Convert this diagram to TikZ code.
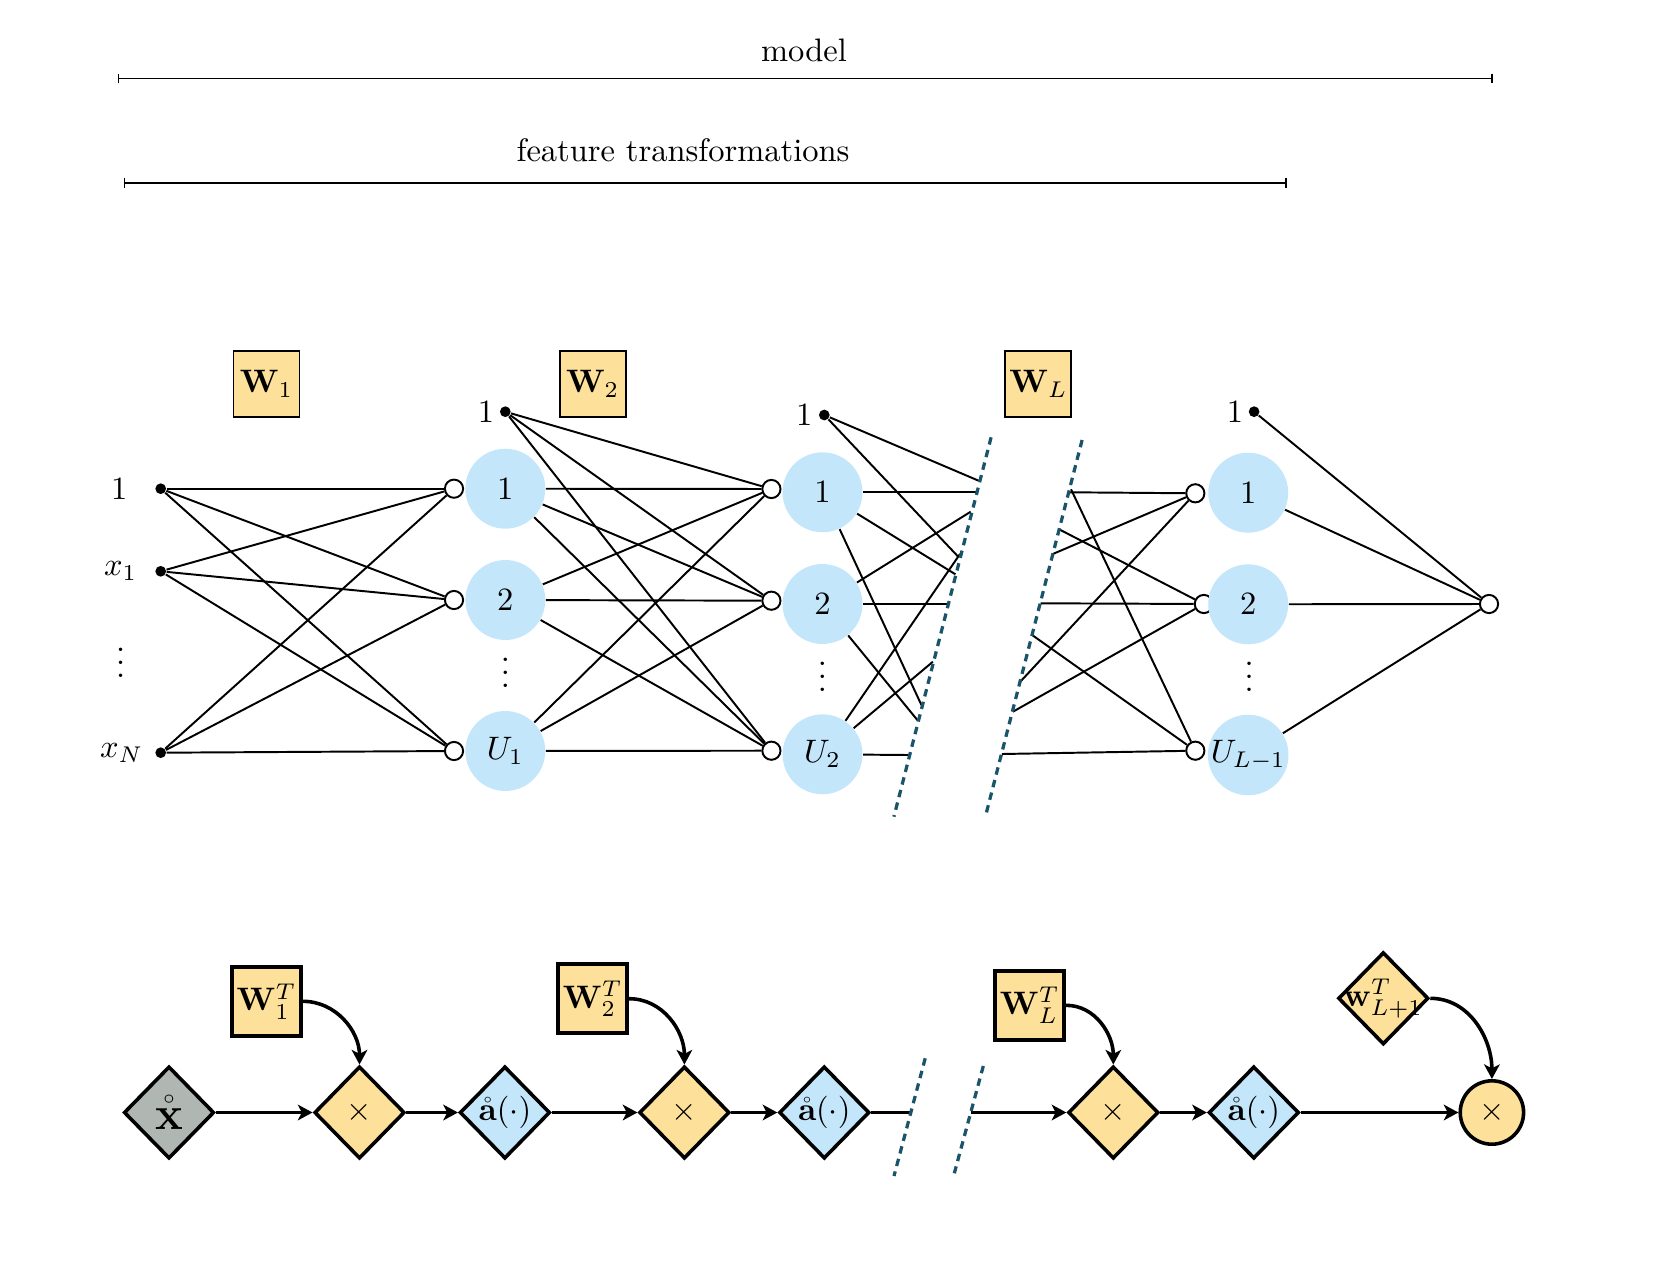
\documentclass[tikz,border=0pt]{standalone}
\usetikzlibrary{arrows.meta,shapes.geometric}
\definecolor{wfill}{HTML}{FDE09A}
\definecolor{afill}{HTML}{C4E6FA}
\definecolor{xfill}{HTML}{B0B7B2}
\definecolor{cutcol}{HTML}{1A5468}
\begin{document}
\begin{tikzpicture}[x=0.3077pt,y=-0.3077pt,
  edge/.style={semithick},
  inp/.style={circle,fill=black,inner sep=0pt,minimum size=3.3pt},
  sumn/.style={circle,draw,fill=white,semithick,inner sep=0pt,minimum size=5.6pt},
  actn/.style={circle,fill=afill,inner sep=0pt,minimum size=24.6pt},
  wbox/.style={rectangle,draw,fill=wfill,semithick,inner sep=0pt,minimum size=20.3pt},
  txt/.style={inner sep=0pt},
  cut/.style={cutcol,line width=1pt,dash pattern=on 2.3pt off 1.7pt},
  span/.style={semithick,{Bar[width=3pt]}-{Bar[width=3pt]}},
  flowline/.style={line width=1.1pt},
  flow/.style={line width=1.1pt,-{Stealth[length=4.5pt,width=4.8pt,inset=1.2pt]}},
  bwbox/.style={rectangle,draw,fill=wfill,line width=1.2pt,inner sep=0pt,minimum size=21.2pt},
  dia/.style={diamond,draw,line width=1.1pt,inner sep=0pt,minimum width=27.8pt,minimum height=28.4pt},
  prod/.style={circle,draw,fill=wfill,line width=1.1pt,inner sep=0pt,minimum size=19.5pt},
]
\useasboundingbox (0,0) rectangle (1666,1284);

% ---------- spans ----------
\coordinate (ms) at (117.5,78.5);
\coordinate (me) at (1492.5,78.5);
\draw[span] (ms) -- (me);
\node[txt,anchor=base] (mlab) at (804,61.5) {model};
\coordinate (fs) at (123.5,182.7);
\coordinate (fe) at (1287,182.7);
\draw[span] (fs) -- (fe);
\node[txt,anchor=base] (flab) at (683,161.5) {feature transformations};

% ---------- weight labels ----------
\node[wbox] (W1) at (266.5,384) {$\mathbf{W}_1$};
\node[wbox] (W2) at (592.7,384) {$\mathbf{W}_2$};
\node[wbox] (WL) at (1038.4,384) {$\mathbf{W}_L$};

% ---------- input layer ----------
\node[inp] (i0) at (160.7,488.7) {};
\node[inp] (i1) at (160.7,571.3) {};
\node[inp] (iN) at (160.7,752.7) {};
\node[txt] (li0) at (119.3,489) {$1$};
\node[txt] (li1) at (120.7,571) {$x_1$};
\node[txt] (lid) at (120.7,653) {$\vdots$};
\node[txt] (liN) at (121.7,753) {$x_N$};

% ---------- hidden layer 1 ----------
\node[sumn] (s11) at (454,488.7) {};
\node[sumn] (s12) at (454,600) {};
\node[sumn] (s1U) at (454,751) {};
\node[actn] (a11) at (505.3,488.7) {$1$};
\node[actn] (a12) at (505.3,600) {$2$};
\node[actn] (a1U) at (505.3,751) {$U_1$};
\node[txt] (d1) at (505.3,663.5) {$\vdots$};
\node[inp] (b1) at (505.3,411.7) {};
\node[txt] (lb1) at (486,411.7) {$1$};

% ---------- hidden layer 2 ----------
\node[sumn] (s21) at (771.4,489) {};
\node[sumn] (s22) at (771.4,600.7) {};
\node[sumn] (s2U) at (771.4,750.7) {};
\node[actn] (a21) at (822.5,492.3) {$1$};
\node[actn] (a22) at (822.5,604) {$2$};
\node[actn] (a2U) at (822.5,754.3) {$U_2$};
\node[txt] (d2) at (822.5,666.7) {$\vdots$};
\node[inp] (b2) at (824.3,415) {};
\node[txt] (lb2) at (804.3,415) {$1$};

% ---------- hidden layer L-1 ----------
\node[sumn] (sL1) at (1195.3,493.3) {};
\node[sumn] (sL2) at (1203.8,604) {};
\node[sumn] (sLU) at (1195.3,750.7) {};
\node[actn] (aL1) at (1248.2,492.7) {$1$};
\node[actn] (aL2) at (1248.2,604.3) {$2$};
\node[actn] (aLU) at (1248.2,755) {$U_{L-1}$};
\node[txt] (dL) at (1249,667.5) {$\vdots$};
\node[inp] (bL) at (1254.1,411.7) {};
\node[txt] (lbL) at (1234.9,411.7) {$1$};

% ---------- output ----------
\node[sumn] (out) at (1489,604) {};

% ---------- connections ----------
\foreach \s in {i0,i1,iN}
  \foreach \t in {s11,s12,s1U}
    \draw[edge] (\s) -- (\t);
\foreach \s in {b1,a11,a12,a1U}
  \foreach \t in {s21,s22,s2U}
    \draw[edge] (\s) -- (\t);
\foreach \s in {bL,aL1,aL2,aLU}
  \draw[edge] (\s) -- (out);

% lines leaving layer 2 towards the gap
\coordinate (c1) at (978.6,480.7);
\coordinate (c2) at (958.2,556.7);
\coordinate (c3) at (976,492.3);
\coordinate (c4) at (955.4,574.3);
\coordinate (c5) at (921.4,705);
\coordinate (c6) at (970.7,511.7);
\coordinate (c7) at (947.5,604);
\coordinate (c8) at (917.9,720.7);
\coordinate (c9) at (960,554);
\coordinate (c10) at (932.9,661.7);
\coordinate (c11) at (908.2,755);
\draw[edge] (b2) -- (c1);
\draw[edge] (b2) -- (c2);
\draw[edge] (a21) -- (c3);
\draw[edge] (a21) -- (c4);
\draw[edge] (a21) -- (c5);
\draw[edge] (a22) -- (c6);
\draw[edge] (a22) -- (c7);
\draw[edge] (a22) -- (c8);
\draw[edge] (a2U) -- (c9);
\draw[edge] (a2U) -- (c10);
\draw[edge] (a2U) -- (c11);

% lines coming out of the gap into layer L-1
\coordinate (e1) at (1069.6,492.3);
\coordinate (e2) at (1071,489.3);
\coordinate (e3) at (1059.1,529.3);
\coordinate (e4) at (1052.8,554);
\coordinate (e5) at (1040.6,603.3);
\coordinate (e6) at (1032.1,635);
\coordinate (e7) at (1020.3,681.7);
\coordinate (e8) at (1012.9,711.7);
\coordinate (e9) at (1001.8,754);
\draw[edge] (e1) -- (sL1);
\draw[edge] (e2) -- (sLU);
\draw[edge] (e3) -- (sL2);
\draw[edge] (e4) -- (sL1);
\draw[edge] (e5) -- (sL2);
\draw[edge] (e6) -- (sLU);
\draw[edge] (e7) -- (sL1);
\draw[edge] (e8) -- (sL2);
\draw[edge] (e9) -- (sLU);

% break marks
\coordinate (kA1) at (991.1,437.3);
\coordinate (kA2) at (893.9,816.7);
\coordinate (kB1) at (1082.1,440);
\coordinate (kB2) at (985.8,815);
\draw[cut] (kA1) -- (kA2);
\draw[cut] (kB1) -- (kB2);

% ---------- computational graph ----------
\node[dia,fill=xfill] (x0) at (169,1112.5) {\Large$\mathring{\mathbf{x}}$};
\node[dia,fill=wfill] (m1) at (359.5,1112.5) {$\times$};
\node[dia,fill=afill] (f1) at (504.9,1112.5) {$\mathring{\mathbf{a}}(\cdot)$};
\node[dia,fill=wfill] (m2) at (684.4,1112.5) {$\times$};
\node[dia,fill=afill] (f2) at (824.3,1112.5) {$\mathring{\mathbf{a}}(\cdot)$};
\node[dia,fill=wfill] (m3) at (1113.3,1112.5) {$\times$};
\node[dia,fill=afill] (f3) at (1253.8,1112.5) {$\mathring{\mathbf{a}}(\cdot)$};
\node[prod] (mo) at (1491.9,1112.5) {$\times$};

\node[bwbox] (t1) at (266.5,1001.3) {$\mathbf{W}_1^T$};
\node[bwbox] (t2) at (592.7,998.7) {$\mathbf{W}_2^T$};
\node[bwbox] (tL) at (1029.7,1005.3) {$\mathbf{W}_L^T$};
\node[dia,fill=wfill] (tw) at (1383.3,998.3) {\makebox[0pt]{$\mathbf{w}_{L+1}^T$}};

\draw[flow] (x0) -- (m1);
\draw[flow] (m1) -- (f1);
\draw[flow] (f1) -- (m2);
\draw[flow] (m2) -- (f2);
\coordinate (g1) at (910.4,1112.5);
\coordinate (g2) at (970.7,1112.5);
\draw[flowline] (f2) -- (g1);
\draw[flow] (g2) -- (m3);
\draw[flow] (m3) -- (f3);
\draw[flow] (f3) -- (mo);

\draw[flow] (t1.east) to[out=0,in=90] (m1.north);
\draw[flow] (t2.east) to[out=0,in=90] (m2.north);
\draw[flow] (tL.east) to[out=0,in=90] (m3.north);
\draw[flow] (tw.east) to[out=0,in=90] (mo.north);

\coordinate (hA1) at (925.2,1058.3);
\coordinate (hA2) at (894,1176);
\coordinate (hB1) at (983.3,1066);
\coordinate (hB2) at (954.3,1173.3);
\draw[cut] (hA1) -- (hA2);
\draw[cut] (hB1) -- (hB2);
\end{tikzpicture}
\end{document}
